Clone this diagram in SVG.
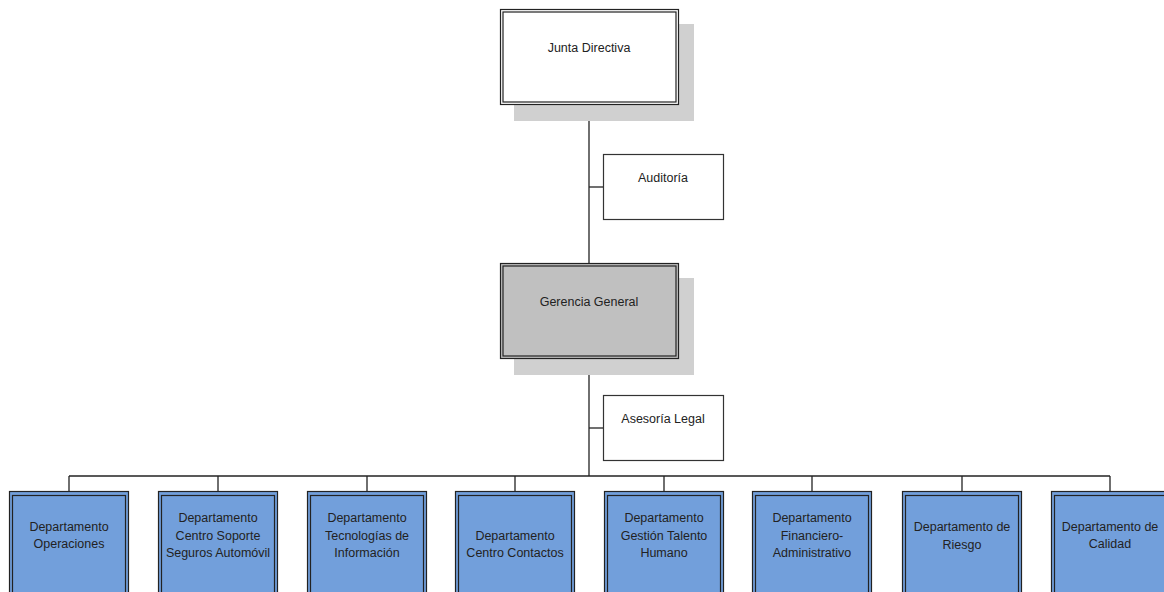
<svg xmlns="http://www.w3.org/2000/svg" width="1164" height="592" viewBox="0 0 1164 592">
<style>
text{font-family:"Liberation Sans",Arial,sans-serif;font-size:12.5px;fill:#222;text-anchor:middle}
.shadow{fill:#d0d0d0}
.frame{fill:none;stroke:#222;stroke-width:1.2}
.plain{fill:#fff;stroke:#333;stroke-width:1.2}
.dept{fill:#729fdb}
.conn{fill:none;stroke:#222;stroke-width:1.3}
</style>
<rect width="1164" height="592" fill="#fff"/>
<g id="connectors">
<line class="conn" x1="589" y1="104" x2="589" y2="263"/>
<line class="conn" x1="589" y1="187" x2="603" y2="187"/>
<line class="conn" x1="589" y1="359" x2="589" y2="476"/>
<line class="conn" x1="589" y1="428" x2="603" y2="428"/>
<line class="conn" x1="69" y1="476" x2="1110" y2="476" stroke="#444"/>
<line class="conn" x1="69" y1="476" x2="69" y2="491"/>
<line class="conn" x1="218" y1="476" x2="218" y2="491"/>
<line class="conn" x1="367" y1="476" x2="367" y2="491"/>
<line class="conn" x1="515" y1="476" x2="515" y2="491"/>
<line class="conn" x1="664" y1="476" x2="664" y2="491"/>
<line class="conn" x1="812" y1="476" x2="812" y2="491"/>
<line class="conn" x1="962" y1="476" x2="962" y2="491"/>
<line class="conn" x1="1110" y1="476" x2="1110" y2="491"/>
</g>
<g id="junta">
<rect class="shadow" x="514" y="24" width="180" height="97"/>
<rect x="500.5" y="9.5" width="178" height="95" fill="#fff" stroke="#222" stroke-width="1.2"/>
<rect class="frame" x="503" y="12" width="173" height="90"/>
<text x="589" y="52">Junta Directiva</text>
</g>
<g id="auditoria">
<rect class="plain" x="603.5" y="154.5" width="120" height="65"/>
<text x="663" y="182">Auditoría</text>
</g>
<g id="gerencia">
<rect class="shadow" x="514" y="278" width="180" height="97"/>
<rect x="500.5" y="263.5" width="178" height="95" fill="#c0c0c0" stroke="#222" stroke-width="1.2"/>
<rect class="frame" x="503" y="266" width="173" height="90"/>
<text x="589" y="306">Gerencia General</text>
</g>
<g id="asesoria">
<rect class="plain" x="603.5" y="395.5" width="120" height="65"/>
<text x="663" y="423">Asesoría Legal</text>
</g>
<g id="d1">
<rect class="dept" x="9.5" y="491.5" width="119" height="110" stroke="#222" stroke-width="1.2"/>
<rect class="frame" x="12.5" y="495.5" width="113" height="110"/>
<text x="69" y="531">Departamento</text>
<text x="69" y="548">Operaciones</text>
</g>
<g id="d2">
<rect class="dept" x="158.5" y="491.5" width="119" height="110" stroke="#222" stroke-width="1.2"/>
<rect class="frame" x="161.5" y="495.5" width="113" height="110"/>
<text x="218" y="522">Departamento</text>
<text x="218" y="540">Centro Soporte</text>
<text x="218" y="557">Seguros Automóvil</text>
</g>
<g id="d3">
<rect class="dept" x="307.5" y="491.5" width="119" height="110" stroke="#222" stroke-width="1.2"/>
<rect class="frame" x="310.5" y="495.5" width="113" height="110"/>
<text x="367" y="522">Departamento</text>
<text x="367" y="540">Tecnologías de</text>
<text x="367" y="557">Información</text>
</g>
<g id="d4">
<rect class="dept" x="455.5" y="491.5" width="119" height="110" stroke="#222" stroke-width="1.2"/>
<rect class="frame" x="458.5" y="495.5" width="113" height="110"/>
<text x="515" y="540">Departamento</text>
<text x="515" y="557">Centro Contactos</text>
</g>
<g id="d5">
<rect class="dept" x="604.5" y="491.5" width="119" height="110" stroke="#222" stroke-width="1.2"/>
<rect class="frame" x="607.5" y="495.5" width="113" height="110"/>
<text x="664" y="522">Departamento</text>
<text x="664" y="540">Gestión Talento</text>
<text x="664" y="557">Humano</text>
</g>
<g id="d6">
<rect class="dept" x="752.5" y="491.5" width="119" height="110" stroke="#222" stroke-width="1.2"/>
<rect class="frame" x="755.5" y="495.5" width="113" height="110"/>
<text x="812" y="522">Departamento</text>
<text x="812" y="540">Financiero-</text>
<text x="812" y="557">Administrativo</text>
</g>
<g id="d7">
<rect class="dept" x="902.5" y="491.5" width="119" height="110" stroke="#222" stroke-width="1.2"/>
<rect class="frame" x="905.5" y="495.5" width="113" height="110"/>
<text x="962" y="531">Departamento de</text>
<text x="962" y="549">Riesgo</text>
</g>
<g id="d8">
<rect class="dept" x="1051.5" y="491.5" width="119" height="110" stroke="#222" stroke-width="1.2"/>
<rect class="frame" x="1054.5" y="495.5" width="113" height="110"/>
<text x="1110" y="531">Departamento de</text>
<text x="1110" y="548">Calidad</text>
</g>
</svg>
